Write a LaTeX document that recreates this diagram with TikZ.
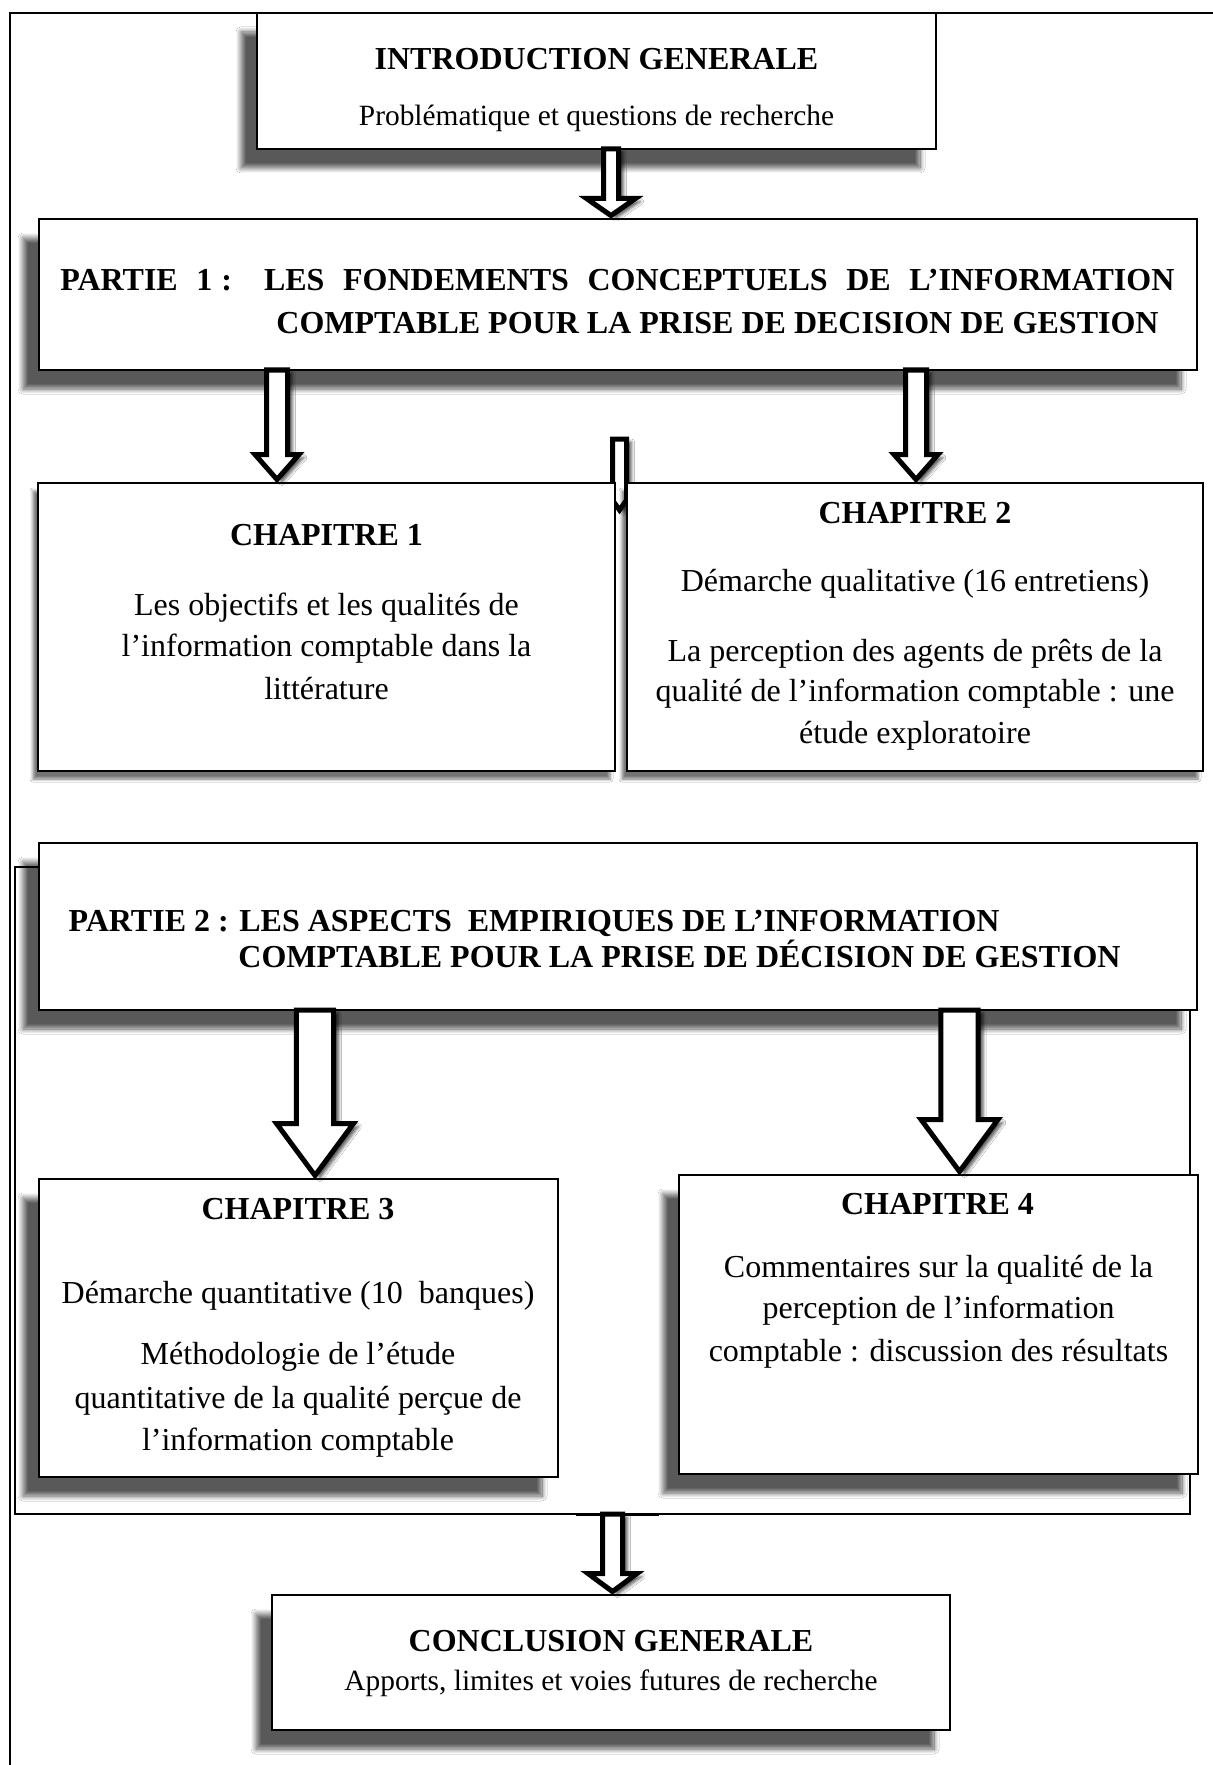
\documentclass[tikz,border=0pt]{standalone}
\usepackage{fontspec}
\setmainfont{Liberation Serif}
\usetikzlibrary{calc,shadows.blur}

\tikzset{
  frameline/.style={draw=black, line width=0.65pt},
  box/.style={draw=black, fill=white, line width=0.9pt, inner sep=0pt, outer sep=0pt},
  bigshadow/.style={blur shadow={shadow xshift=-8pt, shadow yshift=-9.5pt, shadow blur radius=2.5pt, shadow blur steps=12, shadow opacity=65}},
  smallshadow/.style={blur shadow={shadow xshift=-2.5pt, shadow yshift=-4pt, shadow blur radius=1.5pt, shadow opacity=55}},
  barrow/.style={draw=black, fill=white, line width=2.5pt, line join=miter,
    blur shadow={shadow xshift=2.5pt, shadow yshift=-1.5pt, shadow blur radius=1.5pt, shadow opacity=65}},
  ttl/.style={font=\fontsize{16pt}{20pt}\selectfont\bfseries, inner sep=0pt, anchor=base},
  txt/.style={font=\fontsize{16pt}{20pt}\selectfont, inner sep=0pt, anchor=base},
  stxt/.style={font=\fontsize{14.7pt}{18pt}\selectfont, inner sep=0pt, anchor=base}
}

% box from (left,top) to (right,bottom), pixel units
\newcommand\mkbox[6]{%
  \node[#1, minimum width={(#5-#3)*0.5pt}, minimum height={(#6-#4)*0.5pt}] (#2)
    at ({(#3+#5)/2},{(#4+#6)/2}) {};}

% block arrow: #1 style, #2 start, #3 end, #4 centre x, #5 shaft half width, #6 head half width, #7 head length
\newcommand\blockarrow[7]{%
  \path[#1] let \p1=#2, \p2=#3 in
    ({(#4-#5)*0.5pt},\y1) -- ({(#4+#5)*0.5pt},\y1)
    -- ({(#4+#5)*0.5pt},{\y2+1.75pt+#7*0.5pt})
    -- ({(#4+#6)*0.5pt},{\y2+1.75pt+#7*0.5pt})
    -- ({#4*0.5pt},{\y2+1.75pt})
    -- ({(#4-#6)*0.5pt},{\y2+1.75pt+#7*0.5pt})
    -- ({(#4-#5)*0.5pt},{\y2+1.75pt+#7*0.5pt}) -- cycle;}

\begin{document}
\begin{tikzpicture}[x=0.5pt,y=-0.5pt]
\useasboundingbox (0,0) rectangle (1213,1765);
\fill[white] (0,0) rectangle (1213,1765);

% outer frame
\draw[frameline] (1213,13) -- (10,13) -- (10,1765);

% inner frame of part 2
\mkbox{frameline, fill=none, inner sep=0pt, outer sep=0pt}{frame2}{15}{867}{1190}{1514}

% main boxes
\mkbox{box, bigshadow}{intro}{257}{13}{936}{149}
\mkbox{box, bigshadow}{p1}{39}{219}{1197}{370}
\mkbox{box, bigshadow}{p2}{39}{843}{1197}{1010}
\mkbox{box, bigshadow}{ch3}{39}{1179}{558}{1477}
\mkbox{box, bigshadow}{ch4}{679}{1175}{1198}{1474}
\mkbox{box, bigshadow}{concl}{272}{1595}{950}{1730}

% small hidden arrow between the chapter boxes
\coordinate (amtop) at (619.5,439);
\coordinate (amtip) at (619.5,513.5);
\blockarrow{barrow}{(amtop)}{(amtip)}{619.5}{7}{10}{14}

\mkbox{box, smallshadow}{ch1}{38}{483}{615}{771}
\mkbox{box, smallshadow}{ch2}{627}{483}{1203}{771}

% arrows
\blockarrow{barrow}{(intro.south)}{(p1.north)}{611}{7.5}{24.5}{17}
\blockarrow{barrow}{(p1.south)}{(ch1.north)}{277}{10.5}{22}{25}
\blockarrow{barrow}{(p1.south)}{(ch2.north)}{916}{10.5}{22}{25}
\blockarrow{barrow}{(p2.south)}{(ch3.north)}{315}{18.7}{38.5}{52}
\blockarrow{barrow}{(p2.south)}{(ch4.north)}{959.5}{18.7}{38.5}{52}
\blockarrow{barrow}{(frame2.south)}{(concl.north)}{612.5}{10}{24.5}{18}
\draw[line width=1.5pt] (576,1514) -- (659,1514);

% texts
\node[ttl] (t-intro-1) at (596.5,70) {INTRODUCTION GENERALE};
\node[stxt] (t-intro-2) at (596.5,125.5) {Problématique et questions de recherche};

\node[ttl, anchor=base west] (t-p1-1) at (60,290.7)
  {\makebox[557pt][s]{PARTIE 1\hspace{0.28em}: LES FONDEMENTS CONCEPTUELS DE L’INFORMATION}};
\node[ttl, anchor=base west] (t-p1-2) at (276,334) {COMPTABLE POUR LA PRISE DE DECISION DE GESTION};

\node[ttl] (t-ch1-1) at (326.5,545.7) {CHAPITRE 1};
\node[txt] (t-ch1-2) at (326.5,615) {Les objectifs et les qualités de};
\node[txt] (t-ch1-3) at (326.5,656) {l’information comptable dans la};
\node[txt] (t-ch1-4) at (326.5,699) {littérature};

\node[ttl] (t-ch2-1) at (915,523.3) {CHAPITRE 2};
\node[txt] (t-ch2-2) at (915,591.7) {Démarche qualitative (16 entretiens)};
\node[txt] (t-ch2-3) at (915,661.7) {La perception des agents de prêts de la};
\node[txt] (t-ch2-4) at (915,701.7) {qualité de l’information comptable : une};
\node[txt] (t-ch2-5) at (915,743.3) {étude exploratoire};

\node[ttl, anchor=base west] (t-p2-1) at (68.3,931.7) {PARTIE 2 : LES ASPECTS\ \ EMPIRIQUES DE L’INFORMATION};
\node[ttl, anchor=base west] (t-p2-2) at (238,967.3) {COMPTABLE POUR LA PRISE DE DÉCISION DE GESTION};

\node[ttl] (t-ch3-1) at (298,1219.3) {CHAPITRE 3};
\node[txt] (t-ch3-2) at (298,1303.3) {Démarche quantitative (10\ \ banques)};
\node[txt] (t-ch3-3) at (298,1364) {Méthodologie de l’étude};
\node[txt] (t-ch3-4) at (298,1408.3) {quantitative de la qualité perçue de};
\node[txt] (t-ch3-5) at (298,1450) {l’information comptable};

\node[ttl] (t-ch4-1) at (937.5,1214) {CHAPITRE 4};
\node[txt] (t-ch4-2) at (938.5,1277.3) {Commentaires sur la qualité de la};
\node[txt] (t-ch4-3) at (938.5,1318.3) {perception de l’information};
\node[txt] (t-ch4-4) at (938.5,1361.7) {comptable : discussion des résultats};

\node[ttl] (t-concl-1) at (611,1651.7) {CONCLUSION GENERALE};
\node[stxt] (t-concl-2) at (611,1690) {Apports, limites et voies futures de recherche};
\end{tikzpicture}
\end{document}
